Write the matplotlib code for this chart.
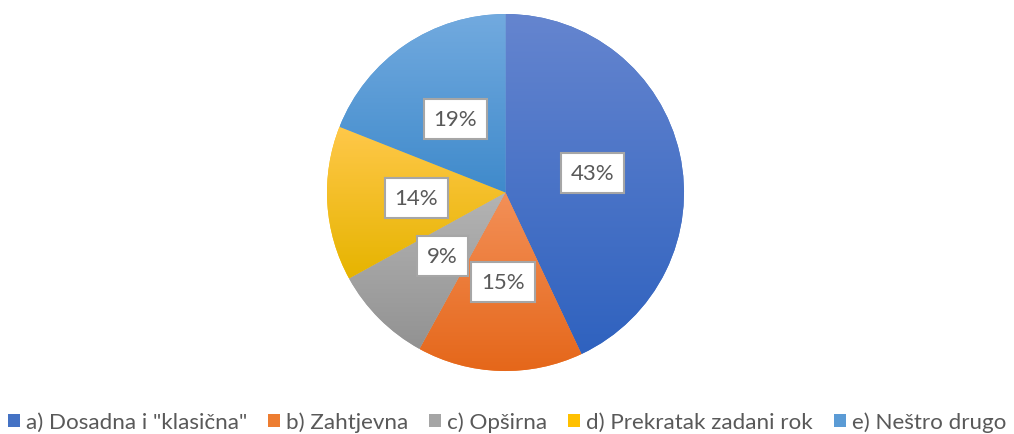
import matplotlib
matplotlib.use("Agg")
import matplotlib.pyplot as plt
import numpy as np
from matplotlib.colors import LinearSegmentedColormap
from matplotlib.patches import Patch

categories = ['a) Dosadna i "klasična"', 'b) Zahtjevna', 'c) Opširna',
              'd) Prekratak zadani rok', 'e) Neštro drugo']
values = [43, 15, 9, 14, 19]
top_colors = ['#6585CF', '#F39058', '#B4B4B4', '#FFC84A', '#72AADF']
bottom_colors = ['#2F62BF', '#E5671A', '#929292', '#E6B400', '#3F8ACB']
base_colors = ['#4472C4', '#ED7D31', '#A5A5A5', '#FFC000', '#5B9BD5']

plt.rcParams['font.family'] = ['Lato', 'DejaVu Sans']

fig = plt.figure(figsize=(10.14, 4.35), dpi=100)
ax = fig.add_axes([327/1014, 63/435, 357/1014, 357/435])

wedges, texts, autotexts = ax.pie(
    values, colors=base_colors, startangle=90, counterclock=False,
    autopct='%1.0f%%', pctdistance=0.5, radius=1,
    wedgeprops=dict(linewidth=0),
    textprops=dict(color='#595959', fontsize=16, zorder=5))

grad = np.linspace(0, 1, 256).reshape(-1, 1)
for w, ct, cb in zip(wedges, top_colors, bottom_colors):
    bb = w.get_path().get_extents()
    cmap = LinearSegmentedColormap.from_list('g', [ct, cb])
    im = ax.imshow(grad, cmap=cmap, aspect='auto',
                   extent=[bb.x0, bb.x1, bb.y0, bb.y1], origin='upper',
                   zorder=1.5, interpolation='bilinear')
    im.set_clip_path(w)

for t in autotexts:
    t.set_bbox(dict(boxstyle='square,pad=0.45', fc='white', ec='#A6A6A6', lw=1.5))

ax.set_xlim(-1, 1)
ax.set_ylim(-1, 1)
ax.set_aspect('equal')
ax.axis('off')

handles = [Patch(facecolor=c, edgecolor='none') for c in base_colors]
leg = fig.legend(handles, categories, loc='center', bbox_to_anchor=(0.5, 0.028),
                 ncol=5, frameon=False, fontsize=16.1, handlelength=0.53,
                 handleheight=0.53, handletextpad=0.26, columnspacing=0.95,
                 labelcolor='#595959', borderaxespad=0, borderpad=0)

fig.savefig('out.png', dpi=100)
